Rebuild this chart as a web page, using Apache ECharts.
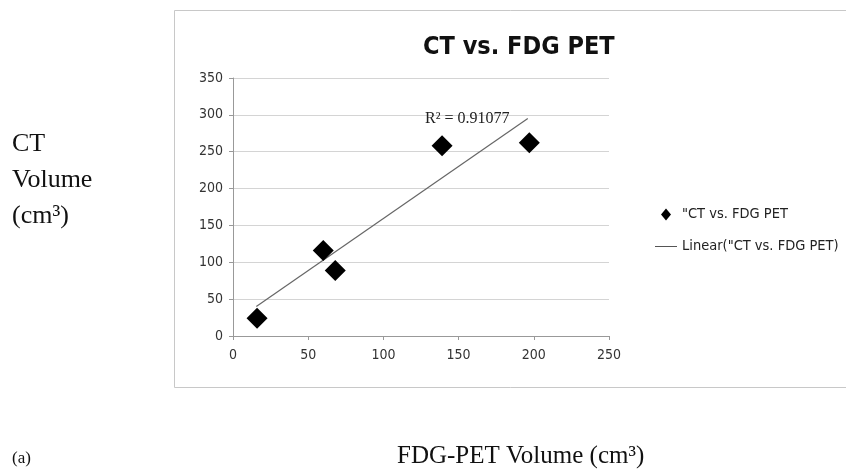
<!DOCTYPE html>
<html>
<head>
<meta charset="utf-8">
<script src="https://cdn.jsdelivr.net/npm/echarts@6/dist/echarts.min.js"></script>
<style>
  html, body { margin: 0; padding: 0; background: #fff; }
  #main { width: 846px; height: 475px; }
</style>
</head>
<body>
<div id="main"></div>
<script>
// values
var seriesName = '"CT vs. FDG PET';
var trendName = 'Linear("CT vs. FDG PET)';
var petVolume = [16, 60, 68, 139, 197];
var ctVolume = [24, 116, 89, 258, 262];
// trend line end points as drawn
var trendX = [15.5, 196];
var trendY = [40, 295];
var xTicks = [0, 50, 100, 150, 200, 250];
var yTicks = [0, 50, 100, 150, 200, 250, 300, 350];

var narrow = "'Liberation Sans Narrow', 'DejaVu Sans Condensed', sans-serif";
var serif = "'Liberation Serif', 'DejaVu Serif', serif";

var points = petVolume.map(function (x, i) { return [x, ctVolume[i]]; });
var trend = trendX.map(function (x, i) { return [x, trendY[i]]; });

var myChart = echarts.init(document.getElementById('main'));
myChart.setOption({
  animation: false,
  backgroundColor: '#fff',
  title: {
    text: 'CT vs. FDG PET',
    left: 418,
    top: 30,
    textStyle: { fontFamily: narrow, fontSize: 25, fontWeight: 'bold', color: '#111' }
  },
  grid: { left: 233, right: 237, top: 78, bottom: 139 },
  legend: {
    orient: 'vertical',
    left: 650,
    top: 202,
    itemWidth: 22,
    itemHeight: 12,
    itemGap: 17,
    symbolKeepAspect: true,
    textStyle: { fontFamily: narrow, fontSize: 14.5, color: '#222' },
    data: [
      { name: seriesName, icon: 'path://M5,0L10,6L5,12L0,6Z', itemStyle: { color: '#000', opacity: 1 } },
      { name: trendName, icon: 'path://M0,0H22V1H0Z', itemStyle: { color: '#555', borderWidth: 0 } }
    ]
  },
  xAxis: {
    type: 'value',
    min: 0, max: 250, interval: 50,
    axisLine: { show: true, lineStyle: { color: '#999' } },
    axisTick: { show: true, length: 4, lineStyle: { color: '#999' } },
    splitLine: { show: false },
    axisLabel: { fontFamily: narrow, fontSize: 14, color: '#333', margin: 12,
      formatter: function (v) { return xTicks.indexOf(v) >= 0 ? String(v) : ''; } }
  },
  yAxis: {
    type: 'value',
    min: 0, max: 350, interval: 50,
    axisLine: { show: true, lineStyle: { color: '#999' } },
    axisTick: { show: true, length: 4, lineStyle: { color: '#999' } },
    splitLine: { show: true, lineStyle: { color: '#d4d4d4' } },
    axisLabel: { fontFamily: narrow, fontSize: 14, color: '#333', margin: 10,
      formatter: function (v) { return yTicks.indexOf(v) >= 0 ? String(v) : ''; } }
  },
  series: [
    {
      name: seriesName,
      type: 'scatter',
      symbol: 'diamond',
      symbolSize: 21,
      itemStyle: { color: '#000', opacity: 1 },
      data: points,
      z: 3
    },
    {
      name: trendName,
      type: 'line',
      symbol: 'none',
      lineStyle: { color: '#666', width: 1.2 },
      itemStyle: { color: '#666' },
      data: trend,
      z: 2
    }
  ],
  graphic: [
    { type: 'rect', z: -1, shape: { x: 174.5, y: 10.5, width: 700, height: 377 },
      style: { fill: 'none', stroke: '#c8c8c8', lineWidth: 1 } },
    { type: 'text', left: 425, top: 111, z: 10,
      style: { text: 'R² = 0.91077', font: '16px ' + serif, fill: '#222' } },
    { type: 'text', left: 12, top: 126,
      style: { text: 'CT\nVolume\n(cm³)', font: '26px ' + serif, lineHeight: 36, fill: '#111' } },
    { type: 'text', left: 12, top: 450,
      style: { text: '(a)', font: '17px ' + serif, fill: '#111' } },
    { type: 'text', left: 397, top: 444,
      style: { text: 'FDG-PET Volume (cm³)', font: '25px ' + serif, fill: '#111' } }
  ]
});
</script>
</body>
</html>
